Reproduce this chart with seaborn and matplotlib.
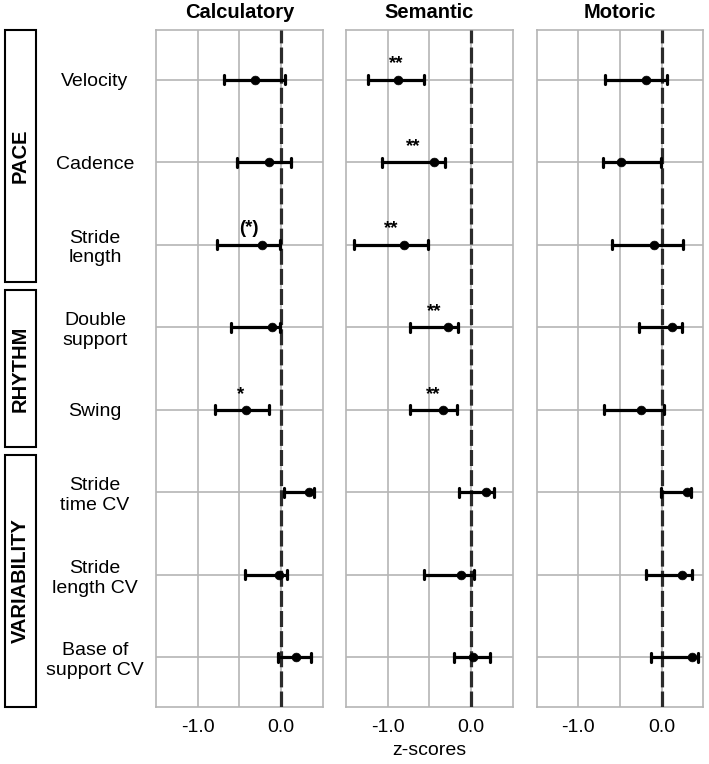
import matplotlib
matplotlib.use("Agg")
import matplotlib.pyplot as plt
from matplotlib.patches import Rectangle
import numpy as np
import pandas as pd
import seaborn as sns

# ---------------- data ----------------
measures = ["Velocity", "Cadence", "Stride length", "Double support", "Swing",
            "Stride time CV", "Stride length CV", "Base of support CV"]
measure_labels = ["Velocity", "Cadence", "Stride\nlength", "Double\nsupport", "Swing",
                  "Stride\ntime CV", "Stride\nlength CV", "Base of\nsupport CV"]
conditions = ["Calculatory", "Semantic", "Motoric"]

calc_point = [-0.31, -0.14, -0.23, -0.11, -0.42, 0.33, -0.03, 0.18]
calc_low = [-0.68, -0.53, -0.77, -0.60, -0.79, 0.04, -0.43, -0.04]
calc_high = [0.05, 0.12, -0.01, -0.01, -0.15, 0.39, 0.07, 0.36]

sem_point = [-0.88, -0.45, -0.80, -0.28, -0.34, 0.18, -0.12, 0.02]
sem_low = [-1.24, -1.07, -1.40, -0.73, -0.73, -0.15, -0.56, -0.21]
sem_high = [-0.56, -0.31, -0.52, -0.16, -0.17, 0.27, 0.04, 0.23]

mot_point = [-0.19, -0.49, -0.09, 0.13, -0.25, 0.31, 0.24, 0.36]
mot_low = [-0.68, -0.70, -0.59, -0.27, -0.69, -0.01, -0.19, -0.13]
mot_high = [0.07, -0.01, 0.26, 0.24, 0.03, 0.35, 0.36, 0.44]

# significance annotations: (condition, measure, label, x position)
annot_cond = ["Calculatory", "Calculatory", "Semantic", "Semantic", "Semantic", "Semantic", "Semantic"]
annot_measure = ["Stride length", "Swing", "Velocity", "Cadence", "Stride length", "Double support", "Swing"]
annot_text = ["(*)", "*", "**", "**", "**", "**", "**"]
annot_x = [-0.39, -0.48, -0.90, -0.69, -0.96, -0.44, -0.45]

groups = ["PACE", "RHYTHM", "VARIABILITY"]
group_first = [0, 3, 5]
group_last = [2, 4, 7]

# ---------------- long table ----------------
series = {
    "Calculatory": (calc_low, calc_point, calc_high),
    "Semantic": (sem_low, sem_point, sem_high),
    "Motoric": (mot_low, mot_point, mot_high),
}
rows = []
for cond in conditions:
    lo, pt, hi = series[cond]
    for i, m in enumerate(measures):
        for v in (lo[i], pt[i], hi[i]):
            rows.append({"condition": cond, "measure": m, "z": v})
df = pd.DataFrame(rows)

# ---------------- figure ----------------
sns.set_style("white")
plt.rcParams["font.family"] = ["Liberation Sans", "DejaVu Sans"]
plt.rcParams["text.color"] = "black"
plt.rcParams["axes.labelcolor"] = "black"
plt.rcParams["xtick.labelcolor"] = "black"
plt.rcParams["ytick.labelcolor"] = "black"

W, H = 709, 764
fig = plt.figure(figsize=(W / 100, H / 100), dpi=100)

grid_col = "#b5b5b5"
lefts = [156, 346, 536.5]
ax_w = 166.7
top_px, bot_px = 30, 707

axes = []
for k, cond in enumerate(conditions):
    ax = fig.add_axes([lefts[k] / W, 1 - bot_px / H, ax_w / W, (bot_px - top_px) / H])
    axes.append(ax)
    sub = df[df["condition"] == cond]
    sns.pointplot(data=sub, x="z", y="measure", order=measures, orient="h",
                  estimator="median", errorbar=lambda v: (v.min(), v.max()),
                  color="black", linestyle="none", marker="o", markersize=6.3,
                  markeredgewidth=0.5,
                  capsize=0.11, err_kws={"linewidth": 2.3, "color": "black"},
                  ax=ax, zorder=4)
    ax.axvline(0, color="#2b2b2b", lw=2.3, dashes=(5, 1.3), zorder=3)
    ax.set_xlim(-1.5, 0.5)
    ax.set_ylim(7.6, -0.6)
    ax.set_xticks([-1.0, 0.0])
    ax.set_xticklabels(["-1.0", "0.0"])
    ax.set_xticks([-0.5], minor=True)
    ax.set_yticks(range(len(measures)))
    ax.set_axisbelow(True)
    ax.grid(True, which="both", axis="x", color=grid_col, lw=1.2)
    ax.grid(True, which="major", axis="y", color=grid_col, lw=1.2)
    ax.tick_params(axis="x", which="major", length=3, width=1.2, color="#333333",
                   labelsize=14, pad=6, labelcolor="black")
    ax.tick_params(axis="x", which="minor", length=0)
    for s in ax.spines.values():
        s.set_color(grid_col)
        s.set_linewidth(1.2)
    ax.set_title(cond, fontsize=14.5, fontweight="bold", pad=9, color="black")
    ax.set_ylabel("")
    if k == 0:
        ax.set_yticklabels(measure_labels, ha="center", multialignment="center",
                           fontsize=14, color="black")
        ax.tick_params(axis="y", length=4, width=1.2, color=grid_col, pad=40)
    else:
        ax.set_yticklabels([])
        ax.tick_params(axis="y", left=False, labelleft=False)
    if k == 1:
        ax.set_xlabel("z-scores", fontsize=14, labelpad=4, color="black")
    else:
        ax.set_xlabel("")

    for c, m, t, x in zip(annot_cond, annot_measure, annot_text, annot_x):
        if c == cond:
            ax.text(x, measures.index(m) - 0.19, t, ha="center", va="center",
                    fontsize=13.5, fontweight="bold", color="black", zorder=5)

# ---------------- group boxes ----------------
row_px = lambda i: top_px + (i + 0.6) * (bot_px - top_px) / 8.2
box_x0, box_x1 = 5, 36
for g, f, l in zip(groups, group_first, group_last):
    y0 = top_px if f == 0 else (row_px(f) + row_px(f - 1)) / 2 + 4
    y1 = bot_px if l == len(measures) - 1 else (row_px(l) + row_px(l + 1)) / 2 - 4
    fig.add_artist(Rectangle((box_x0 / W, 1 - y1 / H), (box_x1 - box_x0) / W, (y1 - y0) / H,
                             transform=fig.transFigure, fill=False, lw=1.5, ec="black"))
    fig.text((box_x0 + box_x1) / 2 / W, 1 - (y0 + y1) / 2 / H, g, rotation=90,
             ha="center", va="center", fontsize=14.5, fontweight="bold", color="black",
             family=["Liberation Sans", "DejaVu Sans"])

fig.savefig("out.png", dpi=100)
